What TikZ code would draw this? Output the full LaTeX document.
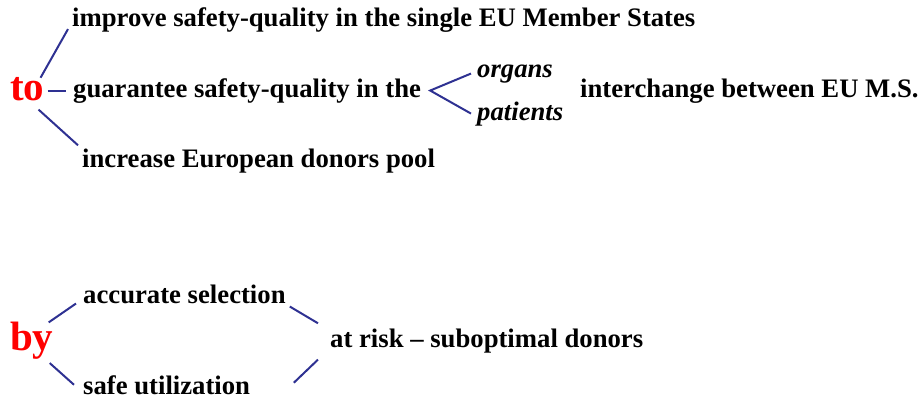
\documentclass[tikz,border=0pt]{standalone}
\usepackage{fontspec}
\setmainfont{Liberation Serif}
\usepackage{tikz}
\usetikzlibrary{calc, positioning}
\definecolor{myred}{HTML}{FF0000}
\definecolor{myblue}{HTML}{2E3192}
\tikzset{
  item/.style={anchor=base west, inner sep=0pt, font=\fontsize{26.7}{30}\selectfont\bfseries},
  subitem/.style={item, font=\fontsize{26.7}{30}\selectfont\bfseries\itshape},
  head/.style={anchor=base west, inner sep=0pt, text=myred, font=\fontsize{41}{44}\selectfont\bfseries},
  link/.style={myblue, line width=2pt},
}
\begin{document}
\begin{tikzpicture}[x=1pt, y=-1pt]
\useasboundingbox (0,0) rectangle (920,400);
% aims
\node[head] (to) at (10,100) {to};
\node[item] (improve) at (72,26) {improve safety-quality in the single EU Member States};
\node[item] (guarantee) at (73,97) {guarantee safety-quality in the};
\node[subitem] (organs) at (477,77) {organs};
\node[subitem] (patients) at (477,120) {patients};
\node[item] (interchange) at (580,97) {interchange between EU M.S.};
\node[item] (increase) at (82,167) {increase European donors pool};
\draw[link] ([shift={(-4,1)}]to.north east) -- ([shift={(-4,-3)}]improve.south west);
\draw[link, shorten <=3pt, shorten >=7pt] (to.east |- guarantee.west) -- (guarantee.west);
\draw[link] ([shift={(-6,9)}]to.south east) -- ([shift={(-4,-3)}]increase.north west);
\coordinate (fork) at ([xshift=9pt]guarantee.east);
\draw[link] ([xshift=-6pt]organs.west) -- (fork) -- ([xshift=-6pt]patients.west);
% means
\node[head] (by) at (10,350) {by};
\node[item] (accurate) at (83,303) {accurate selection};
\node[item] (safe) at (83,394) {safe utilization};
\node[item] (atrisk) at (330,347) {at risk -- suboptimal donors};
\draw[link] ([shift={(-5,1)}]by.north east) -- ([xshift=-7pt]accurate.south west);
\draw[link] ([shift={(-4,4)}]by.south east) -- ([xshift=-9pt]safe.west);
\draw[link] ([shift={(4,3)}]accurate.south east) -- ([shift={(-12,-5)}]atrisk.north west);
\draw[link] ($(safe.east -| accurate.east)+(8,-2)$) -- ([shift={(-12,19)}]atrisk.west);
\end{tikzpicture}
\end{document}
